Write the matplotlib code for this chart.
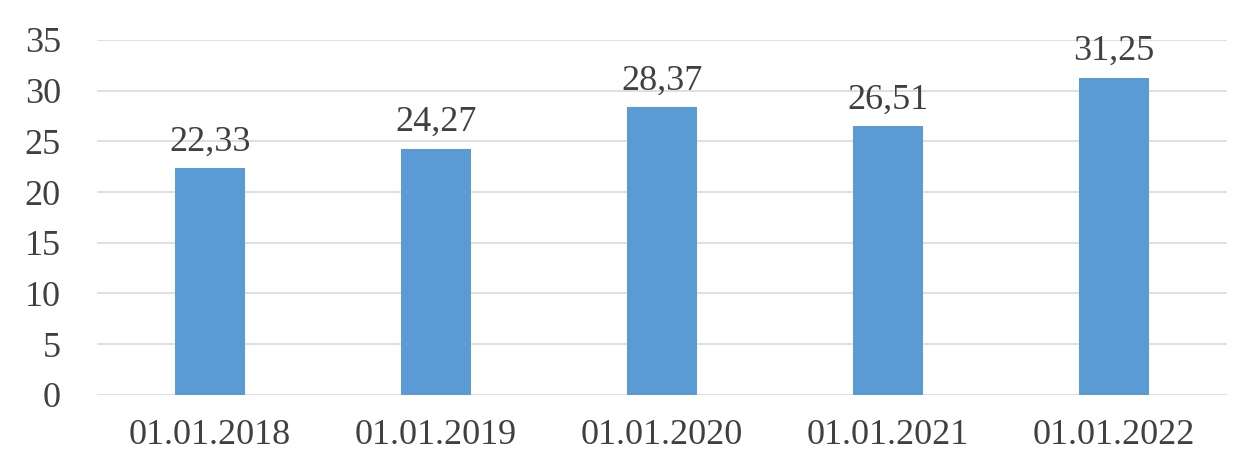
import matplotlib.pyplot as plt

dates = ['01.01.2018', '01.01.2019', '01.01.2020', '01.01.2021', '01.01.2022']
values = [22.33, 24.27, 28.37, 26.51, 31.25]
y_ticks = [0, 5, 10, 15, 20, 25, 30, 35]

plt.rcParams['font.family'] = ['Liberation Serif', 'DejaVu Serif']

fig = plt.figure(figsize=(12.58, 4.69), dpi=100)
ax = fig.add_axes([0.077, 0.158, 0.898, 0.757])

x = range(len(dates))
bars = ax.bar(x, values, width=0.31, color='#5B9BD5', zorder=3)

for xi, v in zip(x, values):
    ax.annotate(f'{v:.2f}'.replace('.', ','), (xi, v), xytext=(0, 7),
                textcoords='offset points', ha='center', va='bottom',
                fontsize=26, color='#404040')

ax.set_xlim(-0.5, len(dates) - 0.5)
ax.set_ylim(0, 35)
ax.set_yticks(y_ticks)
ax.set_xticks(list(x))
ax.set_xticklabels(dates)
ax.tick_params(axis='both', length=0, labelsize=26, labelcolor='#404040')
ax.tick_params(axis='x', pad=17)
ax.tick_params(axis='y', pad=26)
ax.grid(axis='y', color='#d9d9d9', linewidth=1.2, zorder=0)
for s in ax.spines.values():
    s.set_visible(False)

fig.savefig('out.png', dpi=100)
